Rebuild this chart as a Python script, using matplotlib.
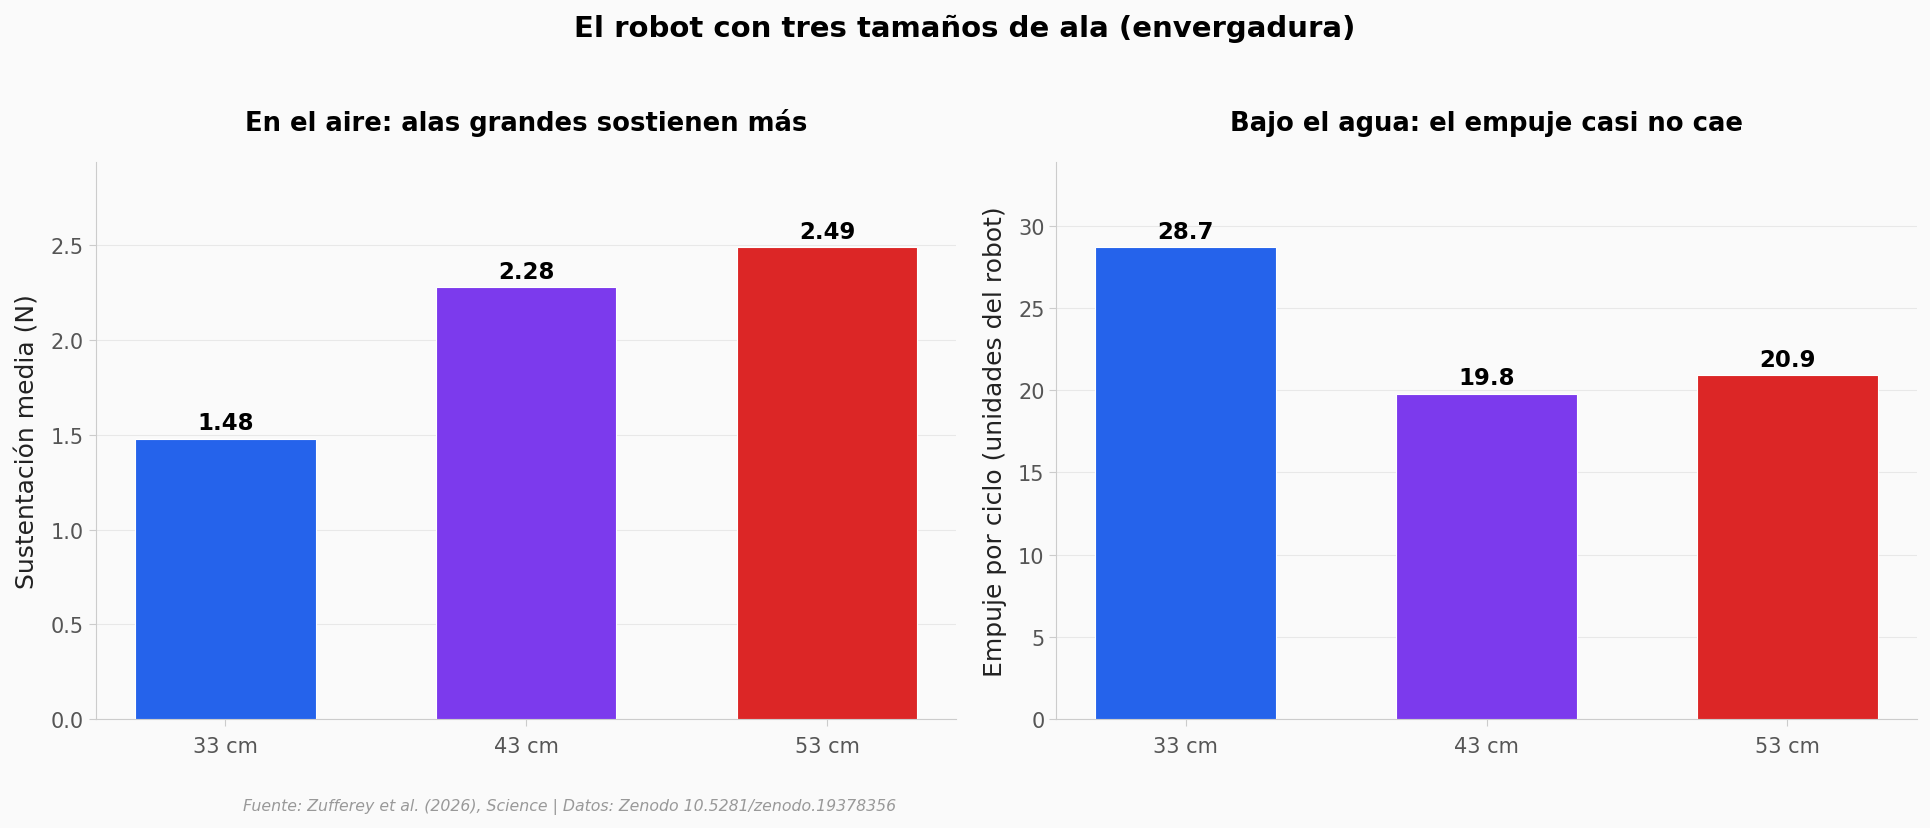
import matplotlib.pyplot as plt

wings = ['33 cm', '43 cm', '53 cm']
lift_air = [1.48, 2.28, 2.49]
thrust_water = [28.7, 19.8, 20.9]
colors = ['#2563eb', '#7c3aed', '#dc2626']

bg = '#fafafa'

fig, axes = plt.subplots(1, 2, figsize=(19.3, 8.29), dpi=100, facecolor=bg)
fig.subplots_adjust(left=0.0497, right=0.9932, top=0.803, bottom=0.1315, wspace=0.116)


def draw(ax, values, title, ylabel, fmt):
    ax.set_facecolor(bg)
    bars = ax.bar(wings, values, width=0.6, color=colors, edgecolor='white', linewidth=0.8, zorder=3)
    for b, v in zip(bars, values):
        ax.annotate(fmt.format(v), (b.get_x() + b.get_width() / 2, v),
                    xytext=(0, 3), textcoords='offset points',
                    ha='center', va='bottom', fontsize=16.5, fontweight='bold', color='black')
    ax.set_ylim(0, max(values) * 1.18)
    ax.set_title(title, fontsize=18.6, fontweight='bold', pad=23)
    ax.set_ylabel(ylabel, fontsize=18, color='#222222', labelpad=8)
    ax.grid(axis='y', color='#e8e8e8', linewidth=0.8, zorder=0)
    ax.set_axisbelow(True)
    for s in ['top', 'right']:
        ax.spines[s].set_visible(False)
    for s in ['left', 'bottom']:
        ax.spines[s].set_color('#cccccc')
    ax.tick_params(axis='both', labelsize=15, colors='#555555', length=5, color='#cccccc')
    ax.tick_params(axis='x', pad=7)


draw(axes[0], lift_air, 'En el aire: alas grandes sostienen más', 'Sustentación media (N)', '{:.2f}')
draw(axes[1], thrust_water, 'Bajo el agua: el empuje casi no cae', 'Empuje por ciclo (unidades del robot)', '{:.1f}')

fig.suptitle('El robot con tres tamaños de ala (envergadura)', fontsize=21, fontweight='bold', y=0.982)
fig.text(0.126, 0.027, 'Fuente: Zufferey et al. (2026), Science | Datos: Zenodo 10.5281/zenodo.19378356',
         fontsize=11.3, style='italic', color='#999999', ha='left', va='center')

fig.savefig('out.png', dpi=100, facecolor=bg)
